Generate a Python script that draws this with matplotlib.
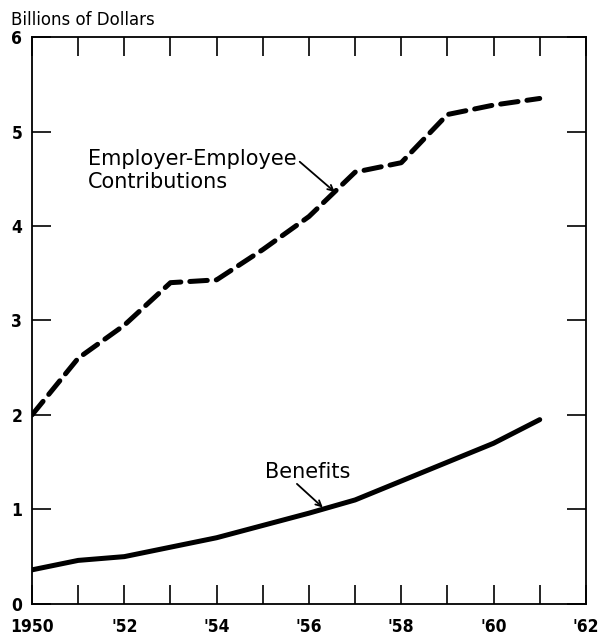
import matplotlib
matplotlib.use("Agg")
import matplotlib.pyplot as plt
from matplotlib import font_manager
from matplotlib.ticker import FixedLocator, MultipleLocator

plt.rcParams['font.family'] = ['DejaVu Sans']
plt.rcParams['xtick.direction'] = 'in'
plt.rcParams['ytick.direction'] = 'in'

years = [1950, 1951, 1952, 1953, 1954, 1955, 1956, 1957, 1958, 1959, 1960, 1961]
contributions = [2.0, 2.6, 2.95, 3.4, 3.43, 3.75, 4.1, 4.57, 4.67, 5.18, 5.28, 5.35]
benefits = [0.36, 0.46, 0.5, 0.6, 0.7, 0.83, 0.96, 1.1, 1.3, 1.5, 1.7, 1.95]

xtick_pos = [1950, 1952, 1954, 1956, 1958, 1960, 1962]
xtick_labels = ["1950", "'52", "'54", "'56", "'58", "'60", "'62"]
ytick_pos = [0, 1, 2, 3, 4, 5, 6]

# pick a narrow face for the tick numbers if one is there
names = {f.name for f in font_manager.fontManager.ttflist}
narrow_dejavu = any(f.name == 'DejaVu Sans' and f.stretch == 'condensed'
                    for f in font_manager.fontManager.ttflist)
if narrow_dejavu:
    tick_font = dict(family='DejaVu Sans', stretch='condensed', size=12.5, weight='bold')
elif 'Liberation Sans Narrow' in names:
    tick_font = dict(family='Liberation Sans Narrow', size=14, weight='bold')
else:
    tick_font = dict(family='Liberation Sans', size=11.5)
tick_fp = font_manager.FontProperties(**tick_font)

fig = plt.figure(figsize=(6.04, 6.39), dpi=100)
ax = fig.add_axes([0.053, 0.055, 0.917, 0.887])

ax.plot(years, contributions, color='black', linewidth=3.6,
        linestyle=(0, (3.5, 1.8)), solid_capstyle='round', dash_capstyle='round')
ax.plot(years, benefits, color='black', linewidth=3.6, solid_capstyle='round')

ax.set_xlim(1950, 1962)
ax.set_ylim(0, 6)

ax.xaxis.set_major_locator(FixedLocator(xtick_pos))
ax.set_xticklabels(xtick_labels)
ax.xaxis.set_minor_locator(MultipleLocator(1))
ax.set_yticks(ytick_pos)

ax.tick_params(axis='both', which='both', top=True, right=True, length=14,
               width=1.2)
ax.tick_params(axis='x', pad=10)
ax.tick_params(axis='y', pad=7)
for lab in ax.get_xticklabels() + ax.get_yticklabels():
    lab.set_fontproperties(tick_fp)
for s in ax.spines.values():
    s.set_linewidth(1.3)

ax.text(1951.21, 4.59, "Employer-Employee\nContributions", fontsize=15,
        ha='left', va='center', linespacing=1.2)
ax.annotate("", xy=(1956.56, 4.36), xytext=(1955.8, 4.68),
            arrowprops=dict(arrowstyle='->', color='black', lw=1.3,
                            shrinkA=0, shrinkB=0))
ax.text(1955.05, 1.40, "Benefits", fontsize=15, ha='left', va='center')
ax.annotate("", xy=(1956.3, 1.02), xytext=(1955.74, 1.27),
            arrowprops=dict(arrowstyle='->', color='black', lw=1.3,
                            shrinkA=0, shrinkB=0))

fig.text(0.018, 0.968, "Billions of Dollars", fontsize=12, ha='left', va='center')

plt.savefig('out.png', dpi=100)
